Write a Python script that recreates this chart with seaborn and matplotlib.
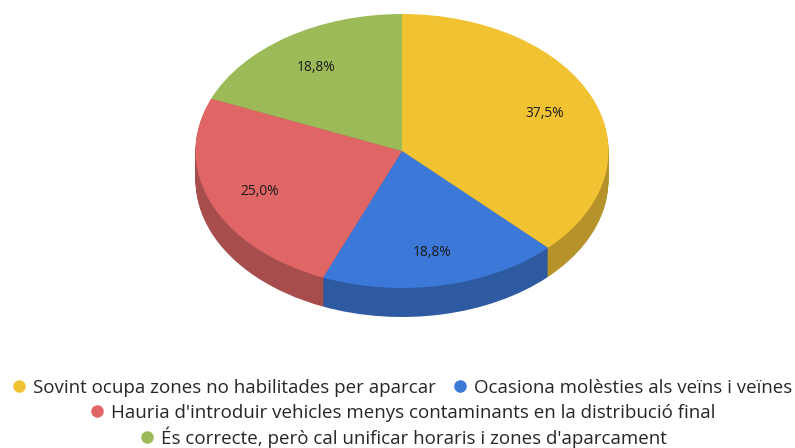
import matplotlib
matplotlib.use('Agg')
import matplotlib.pyplot as plt
from matplotlib.lines import Line2D
import seaborn as sns

categories = ['Sovint ocupa zones no habilitades per aparcar',
              'Ocasiona molèsties als veïns i veïnes',
              "Hauria d'introduir vehicles menys contaminants en la distribució final",
              "És correcte, però cal unificar horaris i zones d'aparcament"]
values = [37.5, 18.75, 25.0, 18.75]
top_colors = ['#F1C232', '#3C78D8', '#E06666', '#9CBB58']
side_colors = ['#B5922A', '#2D5AA0', '#A84D4D', '#758C42']

sns.set_theme(style='white')
plt.rcParams['font.family'] = ['Open Sans', 'DejaVu Sans']

W, H = 795, 448
fig = plt.figure(figsize=(W / 100, H / 100), dpi=100)
ax = fig.add_axes([0, 0, 1, 1])

# the side wall is the same pie stacked downwards
cx, cy, rx, ry, depth = 402, 151, 206.5, 137, 29
for d in range(depth, 0, -1):
    ax.pie(values, colors=side_colors, startangle=90, counterclock=False,
           center=(0, -d / ry), wedgeprops={'linewidth': 0})

# top face
wedges, texts, autotexts = ax.pie(values, colors=top_colors, startangle=90, counterclock=False,
                                  autopct=lambda p: f'{p:.1f}%'.replace('.', ','),
                                  pctdistance=0.745, wedgeprops={'linewidth': 0},
                                  textprops={'fontsize': 9.9, 'color': '#1a1a1a'})
for t in autotexts:
    t.set_y(t.get_position()[1] - 1.5 / ry)

ax.set_aspect('auto')
ax.set_xlim(-cx / rx, (W - cx) / rx)
ax.set_ylim((cy - H) / ry, cy / ry)
ax.axis('off')


def legend_row(idx, x, y):
    handles = [Line2D([], [], linestyle='', marker='o', markersize=8, color=top_colors[i]) for i in idx]
    leg = fig.legend(handles, [categories[i] for i in idx], ncols=len(idx), loc='center',
                     bbox_to_anchor=(x / W, 1 - y / H), frameon=False, fontsize=13.5,
                     handlelength=0.8, handletextpad=0.35, columnspacing=0.9, borderpad=0,
                     borderaxespad=0, labelcolor='#262626')
    return leg


legend_row([0, 1], 402, 388)
legend_row([2], 402, 413)
legend_row([3], 403, 437)

fig.savefig('out.png', dpi=100)
